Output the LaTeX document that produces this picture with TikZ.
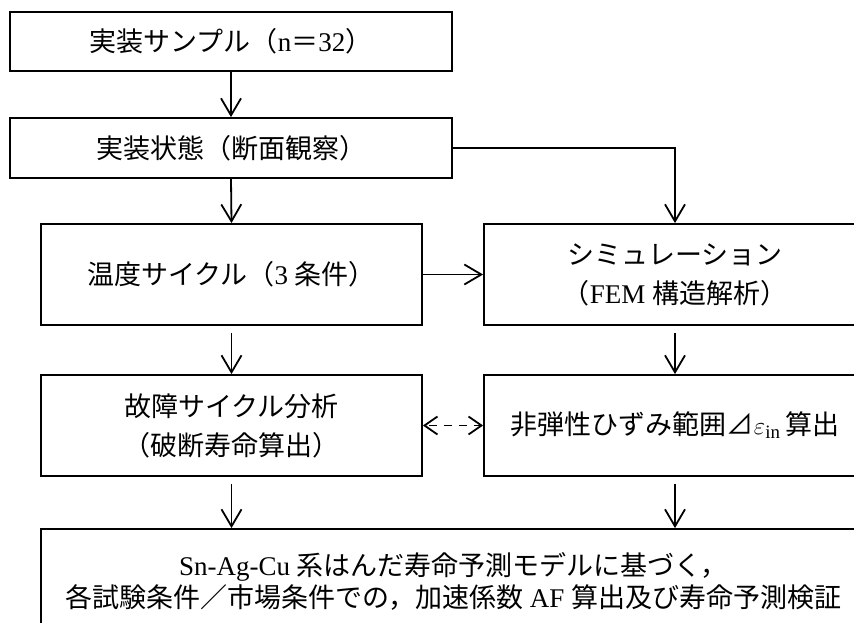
\documentclass[tikz,border=0pt]{standalone}
\usepackage{fontspec}
\setmainfont{Liberation Serif}
\newfontfamily\jp{Noto Sans CJK JP}
\usetikzlibrary{arrows.meta,calc}
\begin{document}
\begin{tikzpicture}[x=1pt,y=-1pt,
  box/.style={draw, line width=1.8pt, inner sep=0pt},
  arr/.style={-{Straight Barb[length=17pt,width=20pt,line width=1.8pt]}, line width=1.8pt},
  darr/.style={{Straight Barb[length=13pt,width=18pt,line width=1.8pt]}-{Straight Barb[length=13pt,width=18pt,line width=1.8pt]}, line width=1.8pt, dash pattern=on 8pt off 7pt, dash phase=-4pt},
  lbl/.style={font=\fontsize{27}{39}\selectfont, align=center},
  lblb/.style={font=\fontsize{27}{32}\selectfont, align=center}]
\useasboundingbox (0,0) rectangle (854,623);
\clip (0,0) rectangle (854,623);
\node[box, lbl, minimum width=442pt, minimum height=59pt] (b1) at (231,41.5)
  {{\jp 実装サンプル（}n{\jp ＝}32{\jp ）}};
\node[box, lbl, minimum width=442pt, minimum height=60pt] (b2) at (231,148)
  {{\jp 実装状態（断面観察）}};
\node[box, lbl, minimum width=381pt, minimum height=101pt] (temp) at (231.5,274.5)
  {{\jp 温度サイクル（}3 {\jp 条件）}};
\node[box, lbl, minimum width=382pt, minimum height=101pt] (sim) at (675,274.5)
  {{\jp シミュレーション}\\{\jp （}FEM {\jp 構造解析）}};
\node[box, lbl, minimum width=381pt, minimum height=101pt] (fail) at (231.5,425.5)
  {{\jp 故障サイクル分析}\\{\jp （破断寿命算出）}};
\node[box, lbl, minimum width=382pt, minimum height=101pt] (inel) at (675,425.5)
  {{\jp 非弾性ひずみ範囲⊿}$\varepsilon_{\mathrm{in}}$\,{\jp 算出}};
\node[box, minimum width=825pt, minimum height=131pt] (bot) at (453.5,594.5) {};
\node[lblb] (bottxt) at (453.5,581)
  {Sn-Ag-Cu {\jp 系はんだ寿命予測モデルに基づく，}\\{\jp 各試験条件／市場条件での，加速係数} AF {\jp 算出及び寿命予測検証}};
\draw[arr] (b1.south) -- (b2.north);
\draw[arr] (b2.east) -| (sim.north);
\draw[arr] (b2.south) -- (temp.north);
\draw[arr] (temp.east) -- (sim.west);
\draw[arr, shorten <=7pt] (temp.south) -- (fail.north);
\draw[arr, shorten <=7pt] (sim.south) -- (inel.north);
\draw[darr] (fail.east) -- (inel.west);
\draw[arr, shorten <=7pt] (fail.south) -- (fail.south |- bot.north);
\draw[arr, shorten <=7pt] (inel.south) -- (inel.south |- bot.north);
\end{tikzpicture}
\end{document}
